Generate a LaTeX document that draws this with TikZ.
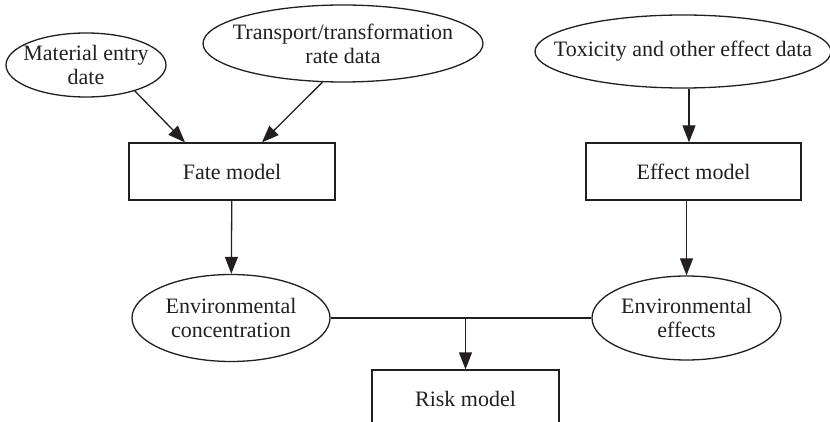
\documentclass[tikz,border=0pt]{standalone}
\usepackage{fontspec}
\setmainfont{Liberation Serif}
\usetikzlibrary{arrows.meta,shapes.geometric}
\definecolor{ink}{HTML}{231F20}
\begin{document}
\begin{tikzpicture}[x=0.5pt,y=-0.5pt,
  font=\fontsize{11}{12}\selectfont,
  every node/.style={text=ink, draw=ink, line width=0.65pt, align=center, inner sep=0pt},
  % negative inner sep lets the minimum size alone fix the ellipse axes
  oval/.style={ellipse, inner xsep=-40pt, inner ysep=-20pt},
  modelbox/.style={rectangle},
  arr/.style={-{Triangle[length=8.5pt,width=6.5pt]}, draw=ink, line width=0.65pt},
  link/.style={draw=ink, line width=0.65pt}]

\useasboundingbox (0,0) rectangle (830,422);
\clip (0,0) rectangle (830,422);

% data inputs
\node[oval, minimum width=80pt, minimum height=32pt] (mat) at (86,65) {Material entry\\date};
\node[oval, minimum width=140pt, minimum height=38.5pt] (trans) at (343,43.5) {Transport/transformation\\rate data};
\node[oval, minimum width=148pt, minimum height=36.5pt] (tox) at (683,51.5) {Toxicity and other effect data};

% models
\node[modelbox, minimum width=103pt, minimum height=28.5pt] (fate) at (232,171.5) {Fate model};
\node[modelbox, minimum width=107.5pt, minimum height=28.5pt] (effect) at (693.5,171.5) {Effect model};

% outputs
\node[oval, minimum width=99pt, minimum height=43.5pt] (conc) at (231,318) {Environmental\\concentration};
\node[oval, minimum width=94.5pt, minimum height=42pt] (effs) at (686.5,318) {Environmental\\effects};

\node[modelbox, minimum width=93.5pt, minimum height=29pt] (risk) at (465.5,399) {Risk model};

% connectors
\coordinate (fateinA) at ([xshift=-23.5pt]fate.north);
\coordinate (fateinB) at ([xshift=15pt]fate.north);
\draw[arr] (mat.-28) -- (fateinA);
\draw[arr] (trans.-118) -- (fateinB);

\coordinate (effin) at ([xshift=-2.25pt]effect.north);
\draw[arr] (tox.south -| effin) -- (effin);

\draw[arr] (fate) -- (conc);
\draw[arr] (effect.south -| effs.north) -- (effs.north);

\draw[link] (conc.east) -- (effs.west);
\coordinate (join) at (conc.east -| risk.north);
\draw[arr] (join) -- (risk.north);
\end{tikzpicture}
\end{document}
